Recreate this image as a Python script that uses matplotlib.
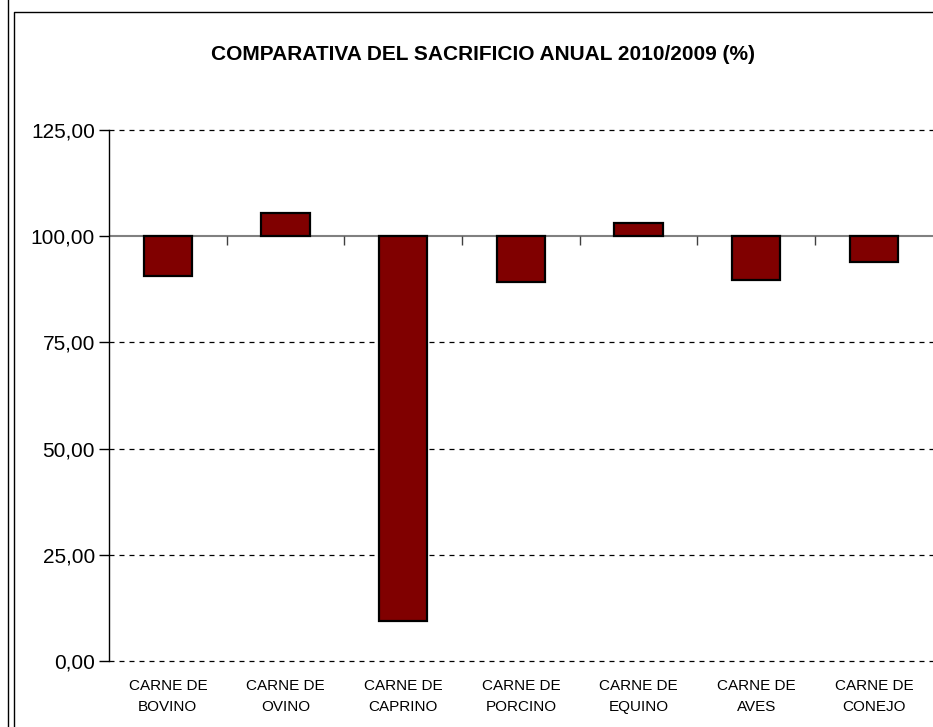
import numpy as np
import matplotlib
matplotlib.use('Agg')
import matplotlib.pyplot as plt
from matplotlib.lines import Line2D
from matplotlib.ticker import FuncFormatter

categorias = ['CARNE DE\nBOVINO', 'CARNE DE\nOVINO', 'CARNE DE\nCAPRINO', 'CARNE DE\nPORCINO',
              'CARNE DE\nEQUINO', 'CARNE DE\nAVES', 'CARNE DE\nCONEJO']
valores = [90.6, 105.4, 9.3, 89.2, 103.1, 89.6, 94.0]
base = 100
titulo = 'COMPARATIVA DEL SACRIFICIO ANUAL 2010/2009 (%)'

plt.rcParams['font.family'] = ['Liberation Sans', 'DejaVu Sans']

fig = plt.figure(figsize=(9.33, 7.27), dpi=100)
ax = fig.add_axes([0.1168, 0.0908, 0.883, 0.7304])

x = np.arange(len(categorias))
alturas = np.array(valores) - base
ax.bar(x, alturas, bottom=base, width=0.41, color='#800000', edgecolor='black', linewidth=1.6, zorder=3)

ax.set_xlim(-0.5, len(categorias) - 0.5)
ax.set_ylim(0, 125)
ax.set_yticks(np.arange(0, 126, 25))
ax.yaxis.set_major_formatter(FuncFormatter(lambda v, p: f'{v:.2f}'.replace('.', ',')))
ax.tick_params(axis='y', direction='out', length=7, width=1, labelsize=15, pad=3)

ax.set_xticks(x)
ax.set_xticklabels(categorias, fontsize=11, linespacing=1.6)
ax.tick_params(axis='x', length=0, pad=13)

# grid dashed, except the base line
for v in [0, 25, 50, 75, 125]:
    ax.axhline(v, color='black', lw=0.9, ls=(0, (4, 4)), zorder=1, clip_on=False)
ax.axhline(base, color='#808080', lw=1.5, zorder=2)
ax.vlines(np.arange(len(categorias) - 1) + 0.5, base - 2, base, color='#404040', lw=1, zorder=2)

for s in ['top', 'right', 'bottom']:
    ax.spines[s].set_visible(False)
ax.spines['left'].set_linewidth(1)

fig.text(0.518, 1 - 54 / 727, titulo, ha='center', va='center', fontsize=15, fontweight='bold')

# marcos exteriores
fig.add_artist(Line2D([14 / 933, 14 / 933, 1], [0, 1 - 12 / 727, 1 - 12 / 727], color='black', lw=1))
fig.add_artist(Line2D([8 / 933, 8 / 933], [0, 1], color='black', lw=1))

fig.savefig('out.png', dpi=100)
